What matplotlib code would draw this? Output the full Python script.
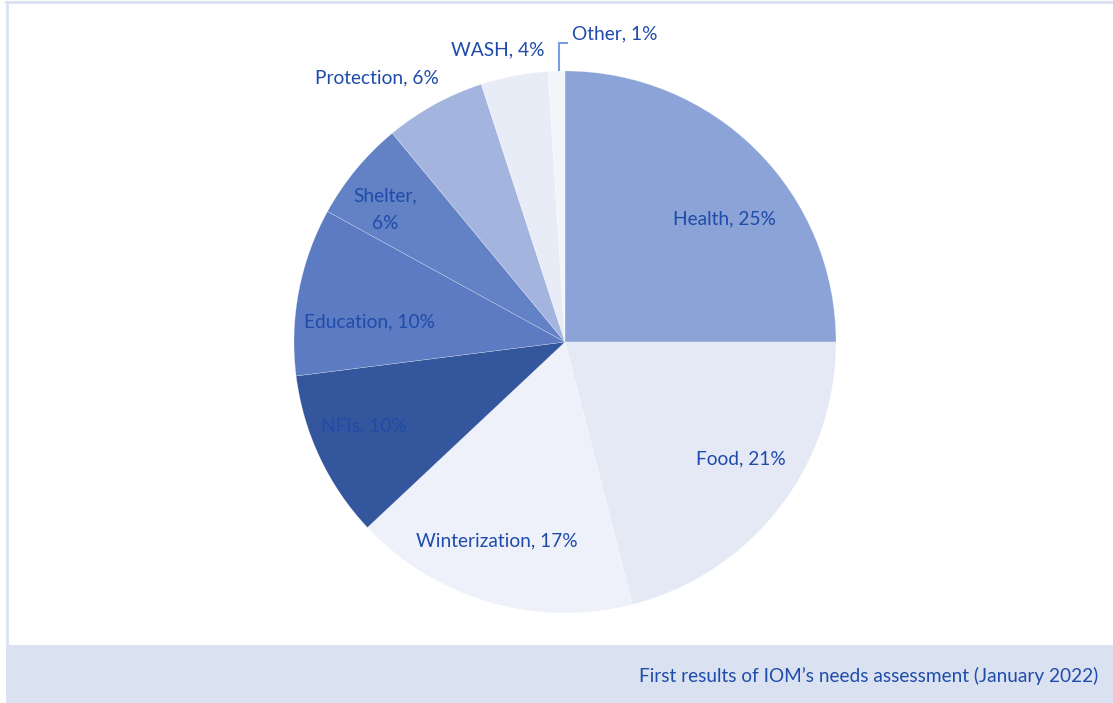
import matplotlib
matplotlib.use("Agg")
import matplotlib.pyplot as plt
from matplotlib.patches import Rectangle
from matplotlib.lines import Line2D

categories = ["Health", "Food", "Winterization", "NFIs", "Education",
              "Shelter", "Protection", "WASH", "Other"]
values = [25, 21, 17, 10, 10, 6, 6, 4, 1]
colors = ["#8BA3D6", "#E4E9F5", "#EEF1F9", "#34569C", "#5C7BC3",
          "#6282C5", "#A3B5DE", "#E8ECF6", "#F3F5FB"]
caption = "First results of IOM\u2019s needs assessment (January 2022)"

# label layout positions (in pie-radius units, relative to centre)
label_pos = [(0.590, 0.454), (0.649, -0.432), (-0.251, -0.734), (-0.742, -0.310),
             (-0.720, 0.074), (-0.664, 0.487), (-0.694, 0.974), (-0.247, 1.077),
             (0.185, 1.137)]

plt.rcParams['font.family'] = ['Lato', 'DejaVu Sans']
txt_color = "#1F4BAA"

W, H = 1113, 703
fig = plt.figure(figsize=(W / 100, H / 100), dpi=100)
cx, cy, R = 565, 342, 271
ax = fig.add_axes([0, 0, 1, 1])

# frame
fig.patches.append(Rectangle((6 / W, 0), (W - 6) / W, (H - 645) / H,
                             transform=fig.transFigure, facecolor="#DAE1F1",
                             edgecolor="none", zorder=0))
fig.lines.append(Line2D([6.5 / W, 6.5 / W], [(H - 645) / H, (H - 1.5) / H],
                        transform=fig.transFigure, color="#DCE2F3", lw=2))
fig.lines.append(Line2D([6 / W, 1], [(H - 1.5) / H, (H - 1.5) / H],
                        transform=fig.transFigure, color="#DCE2F3", lw=2.2))

ax.pie(values, colors=colors, startangle=90, counterclock=False, radius=1,
       wedgeprops=dict(linewidth=0.3, edgecolor=(1, 1, 1, 0.5)))
ax.set_aspect("auto")
ax.set_xlim(-cx / R, (W - cx) / R)
ax.set_ylim(-(H - cy) / R, cy / R)
ax.axis("off")

for i, (name, v) in enumerate(zip(categories, values)):
    lx, ly = label_pos[i]
    text = f"{name}, {v}%"
    if name == "Shelter":
        text = f"{name},\n{v}%"
    ax.text(lx, ly, text, ha="center", va="center", color=txt_color,
            fontsize=13.8, linespacing=1.75)

# leader line for Other
ax.plot([(559 - cx) / R, (559 - cx) / R, (567 - cx) / R],
        [(cy - 70) / R, (cy - 43) / R, (cy - 43) / R],
        color="#7A9CE6", lw=1.5, solid_joinstyle="miter")

fig.text(1098 / W, (H - 676) / H, caption, ha="right", va="center",
         color=txt_color, fontsize=13.7)

fig.savefig("out.png", dpi=100)
